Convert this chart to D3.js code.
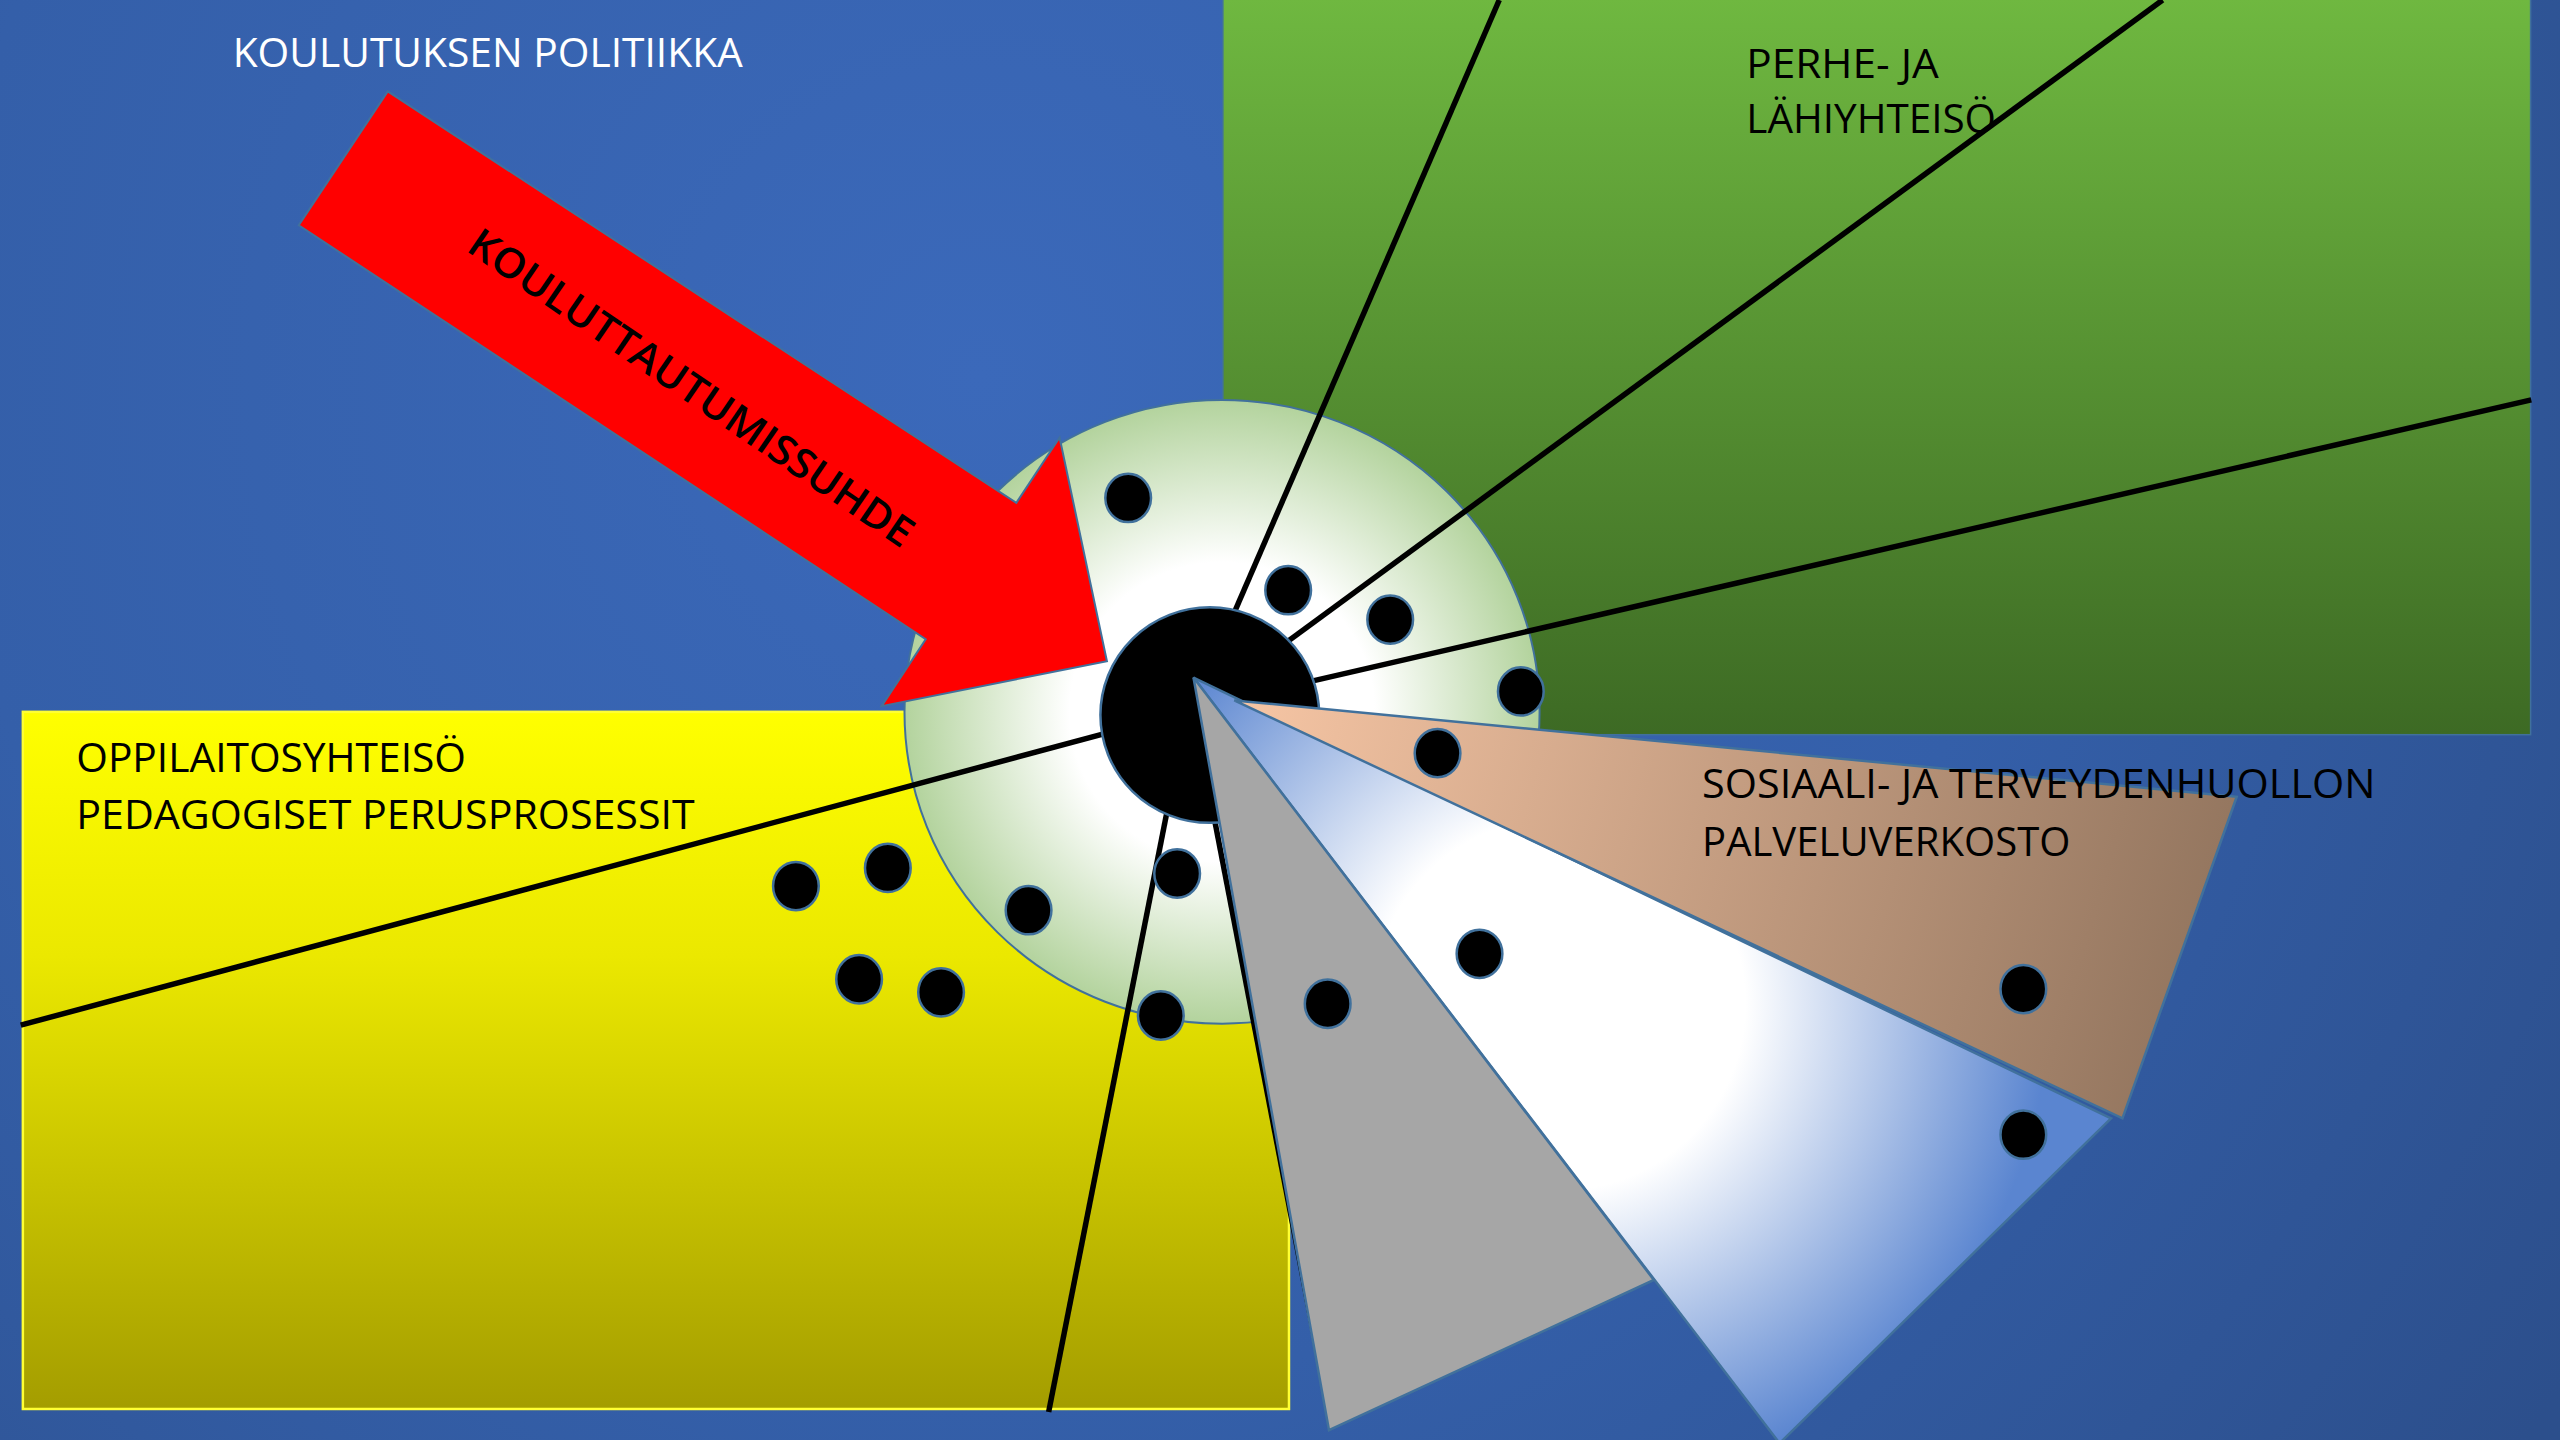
<!DOCTYPE html>
<html>
<head>
<meta charset="utf-8">
<script src="https://cdn.jsdelivr.net/npm/d3@7"></script>
<style>
  html, body { margin: 0; padding: 0; background: #2f5597; }
  svg { display: block; }
</style>
</head>
<body>
<div id="chart"></div>
<script>
// all positions, in its 1568 x 882 frame
var frameW = 1568, frameH = 882;

var greenBox = [749, 0, 1550, 450];
var yellowBox = [14, 436, 789.5, 863];
var ring = [748.5, 436, 194.5, 191];
var hub = [741, 438, 67, 66];

var arrowPts = [[237.5, 56], [622.5, 308], [649, 268], [678, 405], [540, 432.5], [567, 391.5], [183, 138]];
var whitePts = [[731, 415], [1293, 685], [1090, 884]];
var grayPts = [[731, 415], [1013, 784], [814, 876]];
var peachPts = [[756, 429], [1370, 488], [1300, 685]];

// spokes: outer end, inner end (inner end is hidden by the hub)
var spokes = [
	[918.3, 0, 746.3, 397.6],
	[1324.6, 0, 767.9, 408.1],
	[1550.4, 244.9, 779.6, 422.7],
	[12.7, 627.9, 699.4, 443.2],
	[642.3, 864.8, 719.7, 472.2],
	[813, 860, 730, 430]
];

var dots = [
	[691, 305], [789, 361.5], [851.5, 379.5], [931.5, 423.5], [880.5, 461.3],
	[721, 535], [630, 557.5], [487.5, 542.7], [543.8, 531.6], [526.2, 599.8],
	[576.4, 607.8], [711, 622], [813.2, 614.8], [906.2, 584.2], [1239.3, 605.8],
	[1239.3, 695]
];

// text, left x, baseline y, right x, colour
var labels = [
	["KOULUTUKSEN POLITIIKKA", 142.5, 40.8, 455, "#ffffff"],
	["PERHE- JA", 1069.6, 47.5, 1187.5, "#000000"],
	["LÄHIYHTEISÖ", 1069.6, 81.6, 1222.6, "#000000"],
	["OPPILAITOSYHTEISÖ", 46.7, 472.9, 285.4, "#000000"],
	["PEDAGOGISET PERUSPROSESSIT", 46.7, 507.9, 425.5, "#000000"],
	["SOSIAALI- JA TERVEYDENHUOLLON", 1042.5, 489, 1455, "#000000"],
	["PALVELUVERKOSTO", 1042.5, 524, 1268.1, "#000000"]
];

var arrowLabel = ["KOULUTTAUTUMISSUHDE", 423.5, 237.5, 324, 34.4];

var width = 2560, height = 1440;

var x = d3.scaleLinear().domain([0, frameW]).range([0, width]);
var y = d3.scaleLinear().domain([0, frameH]).range([0, height]);

var svg = d3.select("#chart").append("svg")
	.attr("width", width)
	.attr("height", height);

var defs = svg.append("defs");

var bg = defs.append("radialGradient").attr("id", "bgGrad")
	.attr("gradientUnits", "userSpaceOnUse")
	.attr("cx", x(600)).attr("cy", y(230)).attr("r", x(1150));
bg.append("stop").attr("offset", "0").attr("stop-color", "#3b69ba");
bg.append("stop").attr("offset", "0.55").attr("stop-color", "#345fa9");
bg.append("stop").attr("offset", "1").attr("stop-color", "#2c4f8c");

var gg = defs.append("linearGradient").attr("id", "greenGrad")
	.attr("x1", 0).attr("y1", 0).attr("x2", 0).attr("y2", 1);
gg.append("stop").attr("offset", "0").attr("stop-color", "#6fb840");
gg.append("stop").attr("offset", "1").attr("stop-color", "#3d6a24");

var yg = defs.append("linearGradient").attr("id", "yellowGrad")
	.attr("x1", 0).attr("y1", 0).attr("x2", 0).attr("y2", 1);
yg.append("stop").attr("offset", "0").attr("stop-color", "#ffff00");
yg.append("stop").attr("offset", "0.35").attr("stop-color", "#ebe800");
yg.append("stop").attr("offset", "1").attr("stop-color", "#a49d00");

var rg = defs.append("radialGradient").attr("id", "ringGrad");
rg.append("stop").attr("offset", "0").attr("stop-color", "#ffffff");
rg.append("stop").attr("offset", "0.48").attr("stop-color", "#ffffff");
rg.append("stop").attr("offset", "1").attr("stop-color", "#b3d39d");

var wg = defs.append("radialGradient").attr("id", "whiteGrad")
	.attr("gradientUnits", "userSpaceOnUse")
	.attr("cx", x(955)).attr("cy", y(615)).attr("r", x(300));
wg.append("stop").attr("offset", "0").attr("stop-color", "#ffffff");
wg.append("stop").attr("offset", "0.38").attr("stop-color", "#ffffff");
wg.append("stop").attr("offset", "1").attr("stop-color", "#5a85d0");

var pg = defs.append("linearGradient").attr("id", "peachGrad")
	.attr("gradientUnits", "userSpaceOnUse")
	.attr("x1", x(760)).attr("y1", y(430)).attr("x2", x(1335)).attr("y2", y(600));
pg.append("stop").attr("offset", "0").attr("stop-color", "#f6c5a4");
pg.append("stop").attr("offset", "1").attr("stop-color", "#957760");

var edge = "#41719c";

function pts(list) {
	return list.map(function(p) { return x(p[0]) + "," + y(p[1]); }).join(" ");
}

svg.append("rect")
	.attr("width", width)
	.attr("height", height)
	.attr("fill", "url(#bgGrad)");

svg.append("rect")
	.attr("x", x(greenBox[0])).attr("y", y(greenBox[1]) - 2)
	.attr("width", x(greenBox[2] - greenBox[0]))
	.attr("height", y(greenBox[3] - greenBox[1]) + 2)
	.attr("fill", "url(#greenGrad)")
	.attr("stroke", edge).attr("stroke-width", 1.5);

svg.append("rect")
	.attr("x", x(yellowBox[0])).attr("y", y(yellowBox[1]))
	.attr("width", x(yellowBox[2] - yellowBox[0]))
	.attr("height", y(yellowBox[3] - yellowBox[1]))
	.attr("fill", "url(#yellowGrad)")
	.attr("stroke", "#ffff33").attr("stroke-width", 2.5);

svg.append("ellipse")
	.attr("cx", x(ring[0])).attr("cy", y(ring[1]))
	.attr("rx", x(ring[2])).attr("ry", y(ring[3]))
	.attr("fill", "url(#ringGrad)")
	.attr("stroke", edge).attr("stroke-width", 2);

svg.append("g")
	.selectAll("line")
	.data(spokes)
	.enter().append("line")
		.attr("x1", function(d) { return x(d[0]); })
		.attr("y1", function(d) { return y(d[1]); })
		.attr("x2", function(d) { return x(d[2]); })
		.attr("y2", function(d) { return y(d[3]); })
		.attr("stroke", "#000")
		.attr("stroke-width", 5.5);

svg.append("ellipse")
	.attr("cx", x(hub[0])).attr("cy", y(hub[1]))
	.attr("rx", x(hub[2])).attr("ry", y(hub[3]))
	.attr("fill", "#000")
	.attr("stroke", edge).attr("stroke-width", 2.5);

svg.append("polygon")
	.attr("points", pts(whitePts))
	.attr("fill", "url(#whiteGrad)")
	.attr("stroke", edge).attr("stroke-width", 2.5);

svg.append("polygon")
	.attr("points", pts(grayPts))
	.attr("fill", "#a6a6a6")
	.attr("stroke", edge).attr("stroke-width", 2.5);

svg.append("polygon")
	.attr("points", pts(peachPts))
	.attr("fill", "url(#peachGrad)")
	.attr("stroke", edge).attr("stroke-width", 2.5);

svg.append("polygon")
	.attr("points", pts(arrowPts))
	.attr("fill", "#ff0000")
	.attr("stroke", edge).attr("stroke-width", 2);

svg.append("text")
	.attr("transform", "translate(" + x(arrowLabel[1]) + "," + y(arrowLabel[2]) + ") rotate(" + arrowLabel[4] + ")")
	.attr("text-anchor", "middle")
	.attr("dy", "0.35em")
	.attr("font-family", "'Open Sans', sans-serif")
	.attr("font-weight", 600)
	.attr("font-size", 41)
	.attr("textLength", x(arrowLabel[3]))
	.attr("lengthAdjust", "spacingAndGlyphs")
	.attr("fill", "#000")
	.text(arrowLabel[0]);

svg.append("g")
	.selectAll("text")
	.data(labels)
	.enter().append("text")
		.attr("x", function(d) { return x(d[1]); })
		.attr("y", function(d) { return y(d[2]); })
		.attr("font-family", "'Open Sans', sans-serif")
		.attr("font-size", 41)
		.attr("textLength", function(d) { return x(d[3] - d[1]); })
		.attr("lengthAdjust", "spacingAndGlyphs")
		.attr("fill", function(d) { return d[4]; })
		.text(function(d) { return d[0]; });

svg.append("g")
	.selectAll("ellipse")
	.data(dots)
	.enter().append("ellipse")
		.attr("cx", function(d) { return x(d[0]); })
		.attr("cy", function(d) { return y(d[1]); })
		.attr("rx", x(14))
		.attr("ry", y(14.8))
		.attr("fill", "#000")
		.attr("stroke", edge)
		.attr("stroke-width", 2.5);
</script>
</body>
</html>
